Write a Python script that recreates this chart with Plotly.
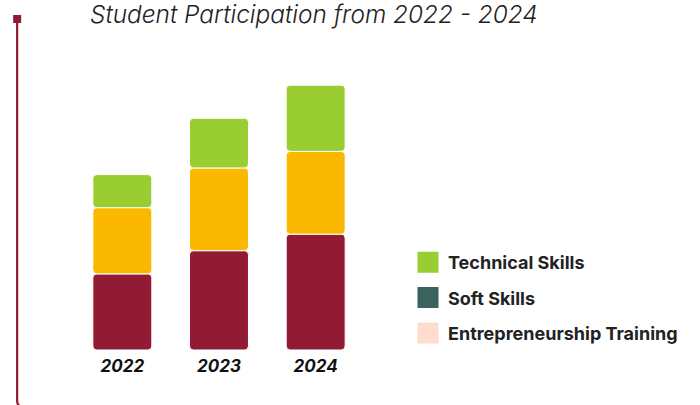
import numpy as np
import plotly.graph_objects as go

# ---- data ----
years = ["2022", "2023", "2024"]
entrepreneurship = [230, 300, 350]   # bottom (dark red)
soft_skills = [200, 250, 250]        # middle (yellow)
technical = [100, 150, 200]          # top (green)

series_names = ["Entrepreneurship Training", "Soft Skills", "Technical Skills"]
bar_colors = ["#921A33", "#FAB800", "#9ACD32"]
legend_names = ["Technical Skills", "Soft Skills", "Entrepreneurship Training"]
legend_colors = ["#9ACD32", "#3A6360", "#FFDDCC"]

# ---- layout geometry (page px; page margin removed below) ----
W, H = 700, 405
P_LEFT, P_RIGHT, P_TOP, P_BOTTOM = 74.25, 363.75, 19, 350
ML = P_LEFT
MR = W - P_RIGHT
MT = P_TOP
MB = H - P_BOTTOM
PW = W - ML - MR
PH = H - MT - MB


def px2x(px):
    return (px - ML) / PW


def py2y(py):
    return (H - MB - py) / PH


fig = go.Figure()

stack = [entrepreneurship, soft_skills, technical]
base = np.zeros(len(years))
for name, vals, col in zip(series_names, stack, bar_colors):
    fig.add_trace(go.Bar(
        x=years, y=vals, base=base.copy(), name=name,
        marker=dict(color=col, line=dict(color="white", width=1)),
        width=0.61, showlegend=False,
    ))
    base = base + np.array(vals)

for i, (name, col) in enumerate(zip(legend_names, legend_colors)):
    fig.add_trace(go.Scatter(
        x=[None], y=[None], mode="markers", name=name,
        marker=dict(symbol="square", size=16, color=col,
                    line=dict(color=col, width=5)),
        legendgroup=f"g{i}", showlegend=True,
    ))

# decorative left line with top square (bends right just below the page edge)
x0 = px2x(17.5)
path = (f"M {x0},{py2y(23)} L {x0},{py2y(401)} "
        f"Q {x0},{py2y(406.5)} {px2x(23)},{py2y(406.5)} L {px2x(60)},{py2y(406.5)}")
shapes = [
    dict(type="path", path=path, xref="paper", yref="paper",
         line=dict(color="#921A33", width=2.2)),
    dict(type="rect", xref="paper", yref="paper",
         x0=px2x(13.5), x1=px2x(21.5), y0=py2y(15), y1=py2y(23),
         fillcolor="#921A33", line=dict(width=0)),
]

fig.update_layout(
    width=W, height=H,
    margin=dict(l=ML, r=MR, t=MT, b=MB, autoexpand=False),
    barmode="overlay",
    barcornerradius=4,
    plot_bgcolor="white", paper_bgcolor="white",
    title=dict(
        text="Student Participation from 2022 - 2024",
        x=90 / W, xref="container", xanchor="left",
        y=1 - 14 / H, yref="container", yanchor="middle",
        font=dict(family="Inter", size=24.4, color="#222222", style="italic",
                  weight=300),
    ),
    xaxis=dict(
        range=[-0.5, 2.5], showgrid=False, zeroline=False, showline=False,
        ticks="", ticklabelstandoff=4,
        tickfont=dict(family="Inter", size=17, color="#111111",
                      weight="bold", style="italic"),
    ),
    yaxis=dict(range=[0, 1000], visible=False, showgrid=False),
    legend=dict(
        xref="container", yref="container",
        x=408 / W, xanchor="left",
        y=1 - 244 / H, yanchor="top",
        font=dict(family="Inter", size=18, color="#222222", weight="bold"),
        tracegroupgap=9, bgcolor="rgba(0,0,0,0)",
    ),
    shapes=shapes,
)

fig.write_html("out.html",
               config={"displayModeBar": False},
               post_script="document.body.style.margin='0';")
